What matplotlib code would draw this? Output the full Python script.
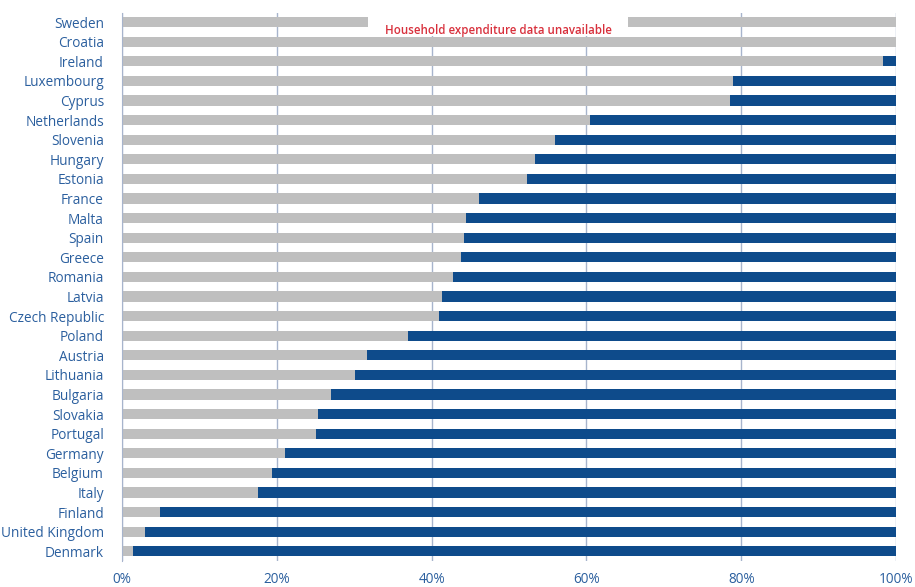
import matplotlib
matplotlib.use('Agg')
import matplotlib.pyplot as plt
from matplotlib.patches import Rectangle
from matplotlib.ticker import FuncFormatter

plt.rcParams['font.family'] = ['Open Sans', 'DejaVu Sans']

# countries top to bottom, share without household expenditure data (grey) in %
countries = ['Sweden', 'Croatia', 'Ireland', 'Luxembourg', 'Cyprus', 'Netherlands',
             'Slovenia', 'Hungary', 'Estonia', 'France', 'Malta', 'Spain', 'Greece',
             'Romania', 'Latvia', 'Czech Republic', 'Poland', 'Austria', 'Lithuania',
             'Bulgaria', 'Slovakia', 'Portugal', 'Germany', 'Belgium', 'Italy',
             'Finland', 'United Kingdom', 'Denmark']
grey_share = [100, 100, 98.3, 78.9, 78.5, 60.5,
              56.0, 53.3, 52.3, 46.1, 44.4, 44.2, 43.8,
              42.7, 41.4, 41.0, 37.0, 31.6, 30.1,
              27.0, 25.3, 25.1, 21.0, 19.4, 17.6,
              4.9, 3.0, 1.4]
blue_share = [100 - g for g in grey_share]

grey = '#BFBFBF'
blue = '#0E4B8B'
label_col = '#2B5F9E'
grid_col = '#A7B4CC'

fig = plt.figure(figsize=(9.15, 5.87), dpi=100)
ax = fig.add_axes([0.1333, 0.044, 0.846, 0.934])

y = list(range(len(countries)))
ax.barh(y, grey_share, height=0.52, color=grey, zorder=2)
ax.barh(y, blue_share, left=grey_share, height=0.52, color=blue, zorder=2)

ax.set_xlim(0, 100)
ax.set_ylim(len(countries) - 0.5, -0.47)
ax.set_xticks([0, 20, 40, 60, 80, 100])
ax.xaxis.set_major_formatter(FuncFormatter(lambda v, p: '%d%%' % v))
ax.set_yticks(y)
ax.set_yticklabels(countries)
ax.tick_params(axis='both', length=0, labelsize=9.8, labelcolor=label_col)
ax.tick_params(axis='y', pad=13)
ax.tick_params(axis='x', pad=8)
ax.grid(axis='x', color=grid_col, linewidth=1, zorder=1)

for s in ['top', 'right', 'bottom']:
    ax.spines[s].set_visible(False)
ax.spines['left'].set_color(grid_col)

# white note box over the two rows without data
ax.add_patch(Rectangle((31.8, -0.45), 33.6, 1.17, facecolor='white',
                       edgecolor='none', zorder=3))
ax.text(48.6, 0.42, 'Household expenditure data unavailable', color='#D8303C',
        fontsize=8.3, fontweight='semibold', ha='center', va='center', zorder=4)

fig.savefig('out.png', dpi=100)
